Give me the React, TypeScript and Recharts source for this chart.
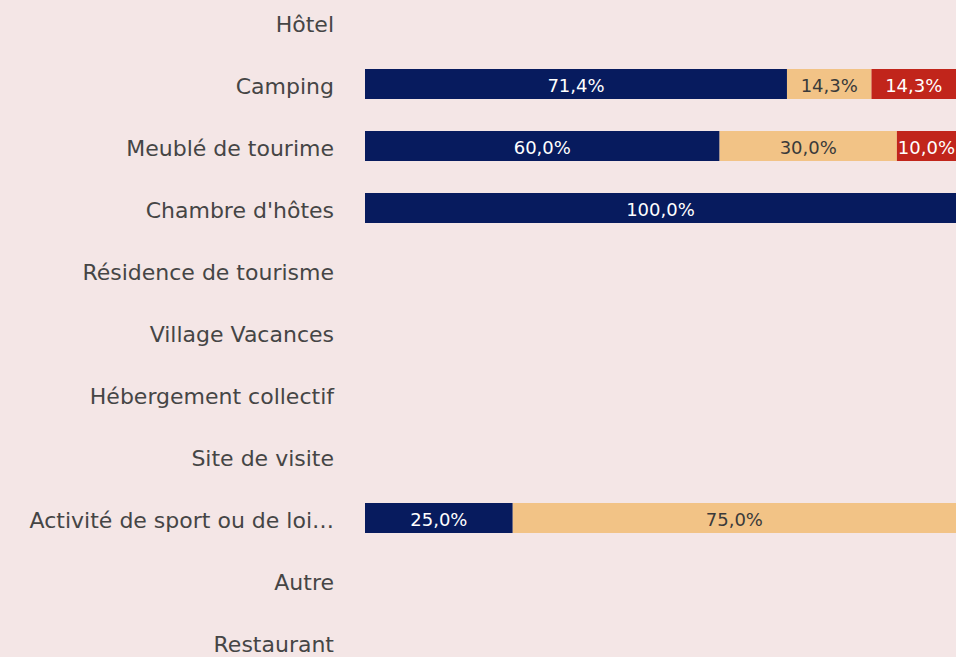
import { BarChart, Bar, XAxis, YAxis, LabelList } from "recharts";

const categories = [
  "Hôtel",
  "Camping",
  "Meublé de tourime",
  "Chambre d'hôtes",
  "Résidence de tourisme",
  "Village Vacances",
  "Hébergement collectif",
  "Site de visite",
  "Activité de sport ou de loisir",
  "Autre",
  "Restaurant",
];

const positif = [null, 71.4, 60.0, 100.0, null, null, null, null, 25.0, null, null];
const neutre = [null, 14.3, 30.0, null, null, null, null, null, 75.0, null, null];
const negatif = [null, 14.3, 10.0, null, null, null, null, null, null, null, null];

const data = categories.map((name, i) => ({
  name,
  positif: positif[i],
  neutre: neutre[i],
  negatif: negatif[i],
}));

const FONT = "'Century Gothic', 'DejaVu Sans', sans-serif";

const fmt = (v: any) =>
  v == null || v === 0 ? "" : `${Number(v).toFixed(1).replace(".", ",")}%`;

const truncate = (s: string) => (s.length > 28 ? s.slice(0, 27) + "…" : s);

export default function App() {
  return (
    <div
      style={{
        position: "absolute",
        left: 0,
        top: 0,
        width: 956,
        height: 657,
        overflow: "hidden",
        background: "#f4e6e6",
      }}
    >
      <div style={{ position: "absolute", left: 0, top: -9 }}>
        <BarChart
          width={956}
          height={682}
          data={data}
          layout="vertical"
          margin={{ top: 0, right: 0, bottom: 0, left: 0 }}
          barSize={30}
        >
          <XAxis type="number" domain={[0, 100]} hide />
          <YAxis
            type="category"
            dataKey="name"
            width={365}
            axisLine={false}
            tickLine={false}
            tickSize={0}
            tickMargin={31}
            tickFormatter={truncate}
            tick={{ fill: "#454545", fontSize: 22, fontFamily: FONT, dy: 2 }}
            interval={0}
          />
          <Bar dataKey="positif" stackId="a" fill="#071b5e" isAnimationActive={false}>
            <LabelList
              dataKey="positif"
              position="center"
              formatter={fmt}
              fill="#ffffff"
              dy={2}
              style={{ fontSize: 18, fontFamily: FONT }}
            />
          </Bar>
          <Bar dataKey="neutre" stackId="a" fill="#f2c386" isAnimationActive={false}>
            <LabelList
              dataKey="neutre"
              position="center"
              formatter={fmt}
              fill="#3a3a3a"
              dy={2}
              style={{ fontSize: 18, fontFamily: FONT }}
            />
          </Bar>
          <Bar dataKey="negatif" stackId="a" fill="#c1251b" isAnimationActive={false}>
            <LabelList
              dataKey="negatif"
              position="center"
              formatter={fmt}
              fill="#ffffff"
              dy={2}
              style={{ fontSize: 18, fontFamily: FONT }}
            />
          </Bar>
        </BarChart>
      </div>
    </div>
  );
}
